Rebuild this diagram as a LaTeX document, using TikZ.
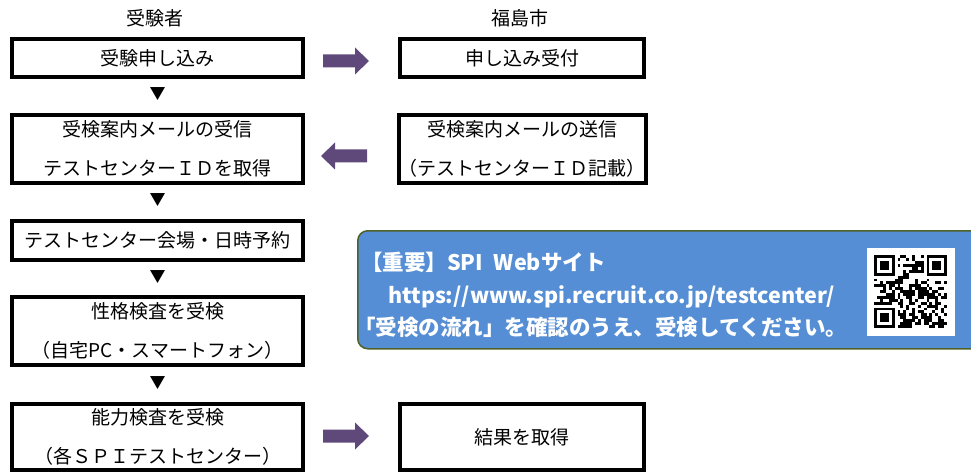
\documentclass[tikz,border=0pt]{standalone}
\usepackage{fontspec}
\setmainfont{Noto Sans CJK JP}
\usetikzlibrary{calc}
\definecolor{arrowpurple}{HTML}{5F497A}
\definecolor{noteblue}{HTML}{558ED5}
\definecolor{noteedge}{HTML}{4F6228}

\begin{document}
\begin{tikzpicture}[x=1pt,y=-1pt,
	every node/.style={font=\fontsize{19}{39}\selectfont},
	flowbox/.style={draw,line width=4pt,minimum width=291pt,inner sep=0pt,align=center},
	cityflow/.style={flowbox,minimum width=244pt},
	parrow/.pic={\fill[arrowpurple] (-23,-6.5) -- (9,-6.5) -- (9,-13.5) -- (23,0) -- (9,13.5) -- (9,6.5) -- (-23,6.5) -- cycle;},
	downmark/.style={inner sep=0pt,font=\fontsize{16}{16}\selectfont},
	notetext/.style={anchor=west,inner sep=0pt,text=white,font=\fontsize{21.5}{24}\selectfont\bfseries}]
	\clip (0,0) rectangle (971,473);

	\node (h1) at (155,18) {受験者};
	\node (h2) at (520,18) {福島市};

	\node[flowbox,minimum height=38pt] (b1) at (157.5,58) {受験申し込み};
	\node[flowbox,minimum height=68pt] (b2) at (157.5,149) {受検案内メールの受信\\テストセンターＩＤを取得};
	\node[flowbox,minimum height=39pt] (b3) at (157.5,240.5) {テストセンター会場・日時予約};
	\node[flowbox,minimum height=68pt] (b4) at (157.5,331) {性格検査を受検\\（自宅PC・スマートフォン）};
	\node[flowbox,minimum height=66pt] (b5) at (157.5,437) {能力検査を受検\\（各ＳＰＩテストセンター）};

	\node[cityflow,minimum height=38pt] (r1) at (522,58) {申し込み受付};
	\node[cityflow,minimum height=68pt] (r2) at (522,149) {受検案内メールの送信\\（テストセンターＩＤ記載）};
	\node[cityflow,minimum height=66pt] (r5) at (522,437) {結果を取得};

	\node[downmark] (d1) at ($(b1.south)!0.45!(b2.north)$) {▼};
	\node[downmark] (d2) at ($(b2.south)!0.45!(b3.north)$) {▼};
	\node[downmark] (d3) at ($(b3.south)!0.45!(b4.north)$) {▼};
	\node[downmark] (d4) at ($(b4.south)!0.45!(b5.north)$) {▼};

	\pic (a1) at (346,61) {parrow};
	\pic[rotate=180] (a2) at (344,156) {parrow};
	\pic (a3) at (346,436) {parrow};

	\node[draw=noteedge,line width=1.5pt,fill=noteblue,rounded corners=10pt,anchor=north west,
		minimum width=633pt,minimum height=118pt,inner sep=0pt] (note) at (357,230) {};
	\node[notetext] (n1) at (361,262) {【重要】SPI\hspace{0.5em}Webサイト};
	\node[notetext] (n2) at (388,297) {https://www.spi.recruit.co.jp/testcenter/};
	\node[notetext] (n3) at (354,327) {「受検の流れ」を確認のうえ、受検してください。};

	\node[fill=white,minimum size=88pt,inner sep=0pt] (qr) at (911,292) {};
	\pgfmathsetseed{7}
	\begin{scope}[shift={($(qr.north west)+(7.5,7.5)$)},x=2.9pt,y=-2.9pt]
		\foreach \i in {0,...,24}
			\foreach \j in {0,...,24}{
				\pgfmathtruncatemacro\qskip{(\i<8 && \j<8) || (\i>16 && \j<8) || (\i<8 && \j>16)}
				\pgfmathrandominteger{\qbit}{0}{1}
				\ifnum\qskip=0 \ifnum\qbit=1 \fill (\i,\j) rectangle +(1.02,1.02); \fi\fi
			}
		\foreach \fx/\fy in {0/0,18/0,0/18}{
			\fill (\fx,\fy) rectangle +(7,7);
			\fill[white] (\fx+1,\fy+1) rectangle +(5,5);
			\fill (\fx+2,\fy+2) rectangle +(3,3);
		}
	\end{scope}
\end{tikzpicture}
\end{document}
